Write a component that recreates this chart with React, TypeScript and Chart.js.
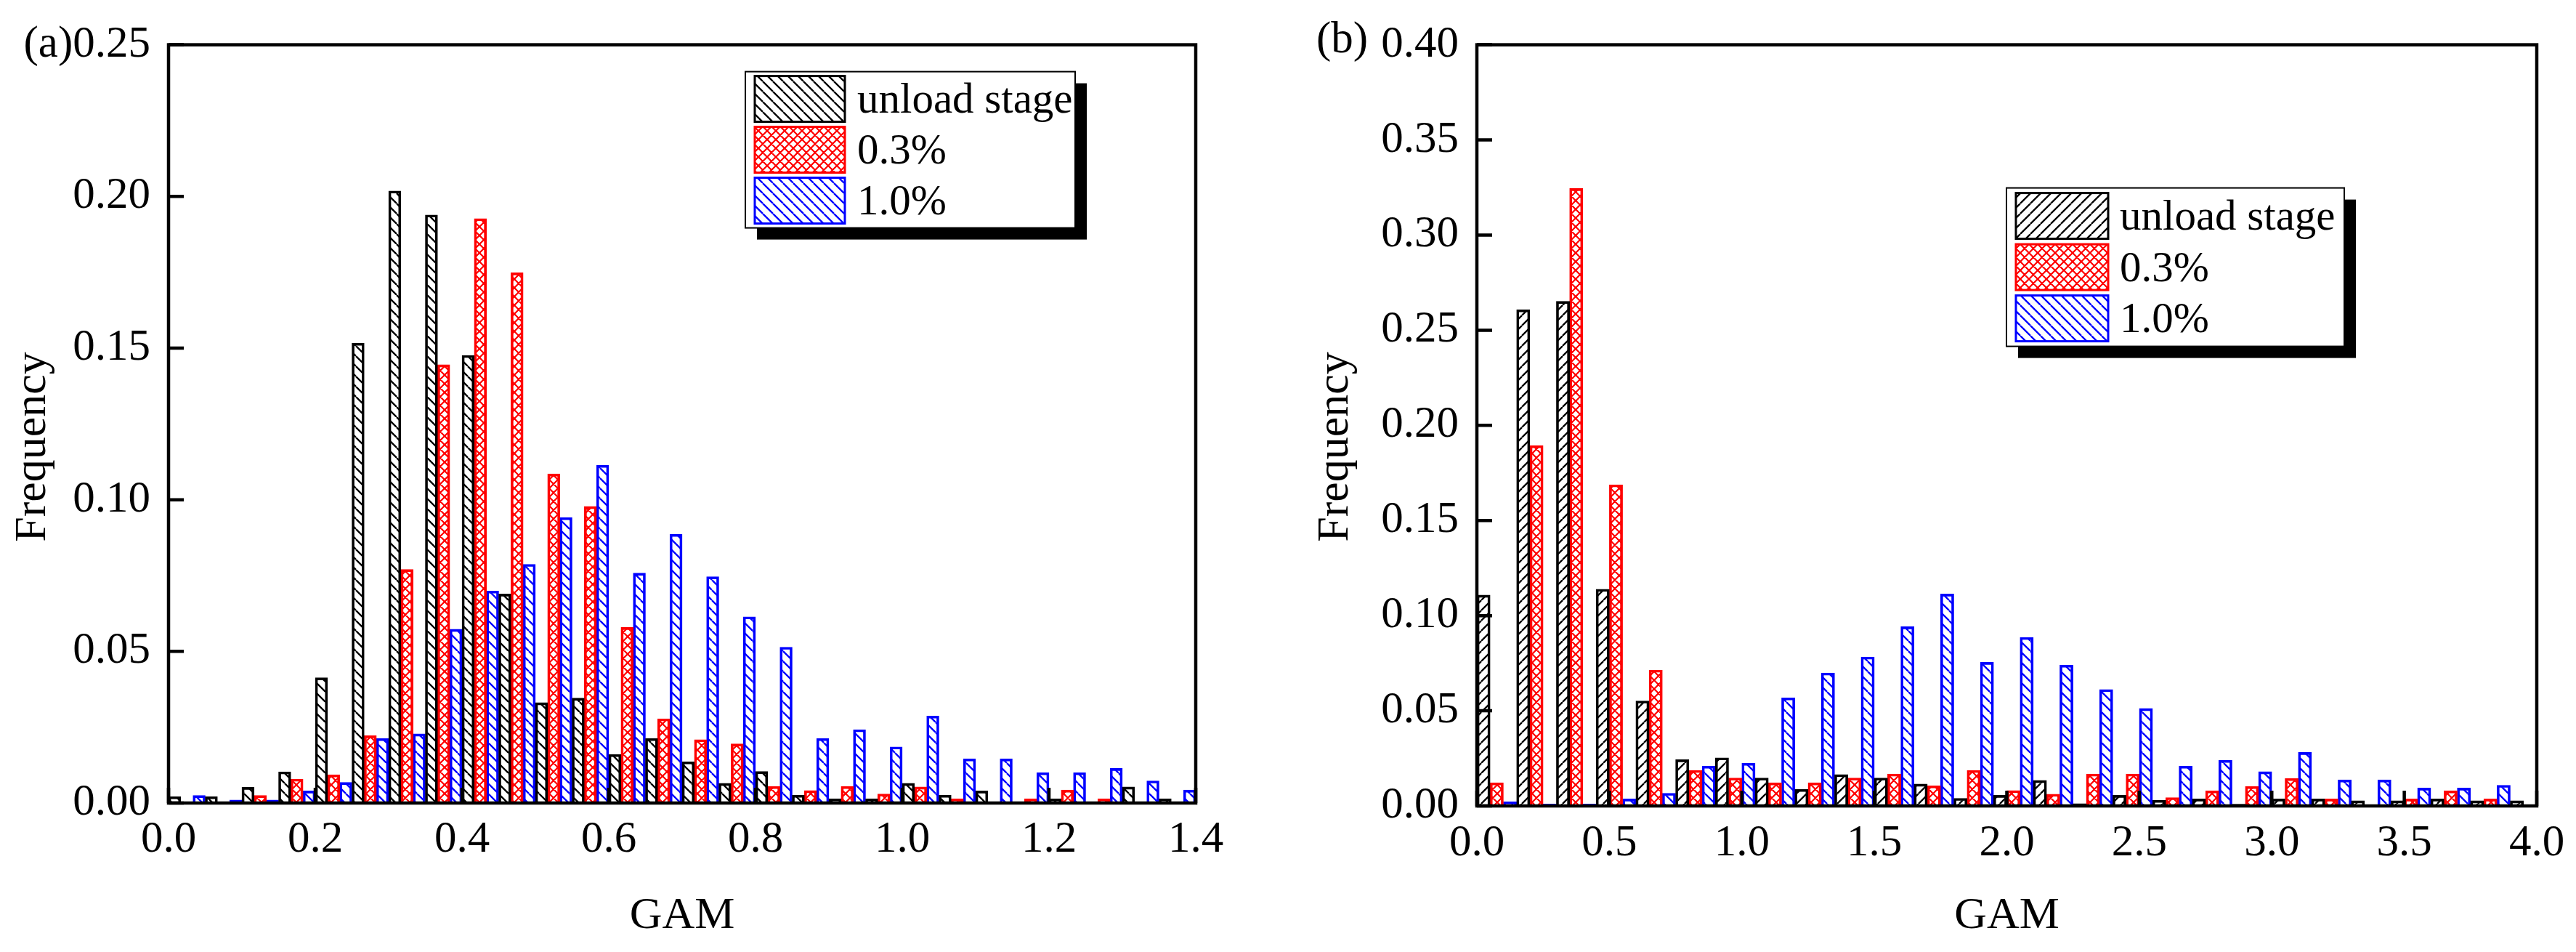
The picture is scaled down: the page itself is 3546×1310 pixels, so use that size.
import { useEffect, useRef } from 'react';
import { Chart, registerables } from 'chart.js';

Chart.register(...registerables);

const FONT = 'Liberation Serif';
const SERIES = ['unload stage', '0.3%', '1.0%'];
const COLORS = ['#000000', '#ff0000', '#0000ff'];
const X_TITLE = 'GAM';
const Y_TITLE = 'Frequency';

// panel (a): bins of 0.05, bar centres
const GAM_A = [0.025, 0.075, 0.125, 0.175, 0.225, 0.275, 0.325, 0.375, 0.425, 0.475, 0.525, 0.575, 0.625, 0.675,
  0.725, 0.775, 0.825, 0.875, 0.925, 0.975, 1.025, 1.075, 1.125, 1.175, 1.225, 1.275, 1.325, 1.375];
const UNLOAD_A = [0.0021, 0.0021, 0.0052, 0.0103, 0.0413, 0.1516, 0.2018, 0.1939, 0.1476, 0.0689, 0.0331, 0.0346, 0.016, 0.0213,
  0.0136, 0.0065, 0.0104, 0.0026, 0.0014, 0.0014, 0.0065, 0.0026, 0.004, 0, 0.0014, 0, 0.0053, 0.0014];
const P03_A = [0, 0, 0.0025, 0.0079, 0.0093, 0.0222, 0.077, 0.1445, 0.1927, 0.1748, 0.1085, 0.0978, 0.0579, 0.0278,
  0.0209, 0.0195, 0.0055, 0.0041, 0.0055, 0.003, 0.0053, 0.0014, 0, 0.0014, 0.0043, 0.0014, 0, 0];
const P10_A = [0.0025, 0.001, 0.001, 0.004, 0.0068, 0.0213, 0.0228, 0.0573, 0.0699, 0.0787, 0.0941, 0.1114, 0.0758, 0.0886,
  0.0746, 0.0614, 0.0514, 0.0213, 0.0242, 0.0185, 0.0287, 0.0146, 0.0146, 0.01, 0.01, 0.0114, 0.0073, 0.0043];
const X_TICKS_A = [0, 0.2, 0.4, 0.6, 0.8, 1.0, 1.2, 1.4];
const Y_TICKS_A = [0, 0.05, 0.1, 0.15, 0.2, 0.25];

// panel (b): bins of 0.15, bar centres
const GAM_B = [0.075, 0.225, 0.375, 0.525, 0.675, 0.825, 0.975, 1.125, 1.275, 1.425, 1.575, 1.725, 1.875, 2.025,
  2.175, 2.325, 2.475, 2.625, 2.775, 2.925, 3.075, 3.225, 3.375, 3.525, 3.675, 3.825, 3.975];
const UNLOAD_B = [0.1108, 0.2608, 0.2652, 0.1139, 0.0552, 0.0243, 0.0253, 0.0147, 0.0087, 0.0165, 0.0147, 0.0115, 0.004, 0.0056,
  0.0134, 0.0012, 0.0056, 0.003, 0.0037, 0.0009, 0.0037, 0.0037, 0.0027, 0.0027, 0.0037, 0.0027, 0.0027];
const P03_B = [0.0122, 0.1894, 0.3245, 0.1688, 0.0714, 0.0187, 0.0147, 0.0122, 0.0122, 0.0147, 0.0168, 0.0106, 0.0187, 0.0081,
  0.0062, 0.0168, 0.0168, 0.0044, 0.008, 0.0102, 0.0144, 0.0037, 0, 0.0037, 0.008, 0.0037, 0];
const P10_B = [0.0022, 0.001, 0.001, 0.0037, 0.0067, 0.0209, 0.0225, 0.0568, 0.0699, 0.0783, 0.0942, 0.1114, 0.0755, 0.0886,
  0.074, 0.0612, 0.0512, 0.0209, 0.024, 0.018, 0.0281, 0.0137, 0.0137, 0.0094, 0.0094, 0.0109, 0];
const X_TICKS_B = [0, 0.5, 1.0, 1.5, 2.0, 2.5, 3.0, 3.5, 4.0];
const Y_TICKS_B = [0, 0.05, 0.1, 0.15, 0.2, 0.25, 0.3, 0.35, 0.4];

const W = 1773, H = 1310;

type Hatch = 'back' | 'fwd' | 'cross';

function hatch(ctx: CanvasRenderingContext2D, color: string, kind: Hatch, s: number, lw: number) {
  const c = document.createElement('canvas');
  c.width = s; c.height = s;
  const g = c.getContext('2d')!;
  g.strokeStyle = color; g.lineWidth = lw;
  g.beginPath();
  for (let k = -1; k <= 1; k++) {
    if (kind !== 'fwd') { g.moveTo(k * s, 0); g.lineTo(k * s + s, s); }
    if (kind !== 'back') { g.moveTo(k * s + s, 0); g.lineTo(k * s, s); }
  }
  g.stroke();
  return ctx.createPattern(c, 'repeat')!;
}

const framePlugin = {
  id: 'frame',
  afterDatasetsDraw(chart: any, _a: any, o: any) {
    const { ctx, chartArea: a, scales: { x, y } } = chart;
    ctx.save();
    ctx.strokeStyle = '#000';
    ctx.lineWidth = 4.5;
    ctx.beginPath();
    x.ticks.forEach((t: any) => { const p = x.getPixelForValue(t.value); ctx.moveTo(p, a.bottom); ctx.lineTo(p, a.bottom - 21); });
    y.ticks.forEach((t: any) => { const p = y.getPixelForValue(t.value); ctx.moveTo(a.left, p); ctx.lineTo(a.left + 21, p); });
    ctx.stroke();
    ctx.strokeRect(a.left, a.top, a.right - a.left, a.bottom - a.top);

    // legend box with drop shadow
    const L = o.legend;
    const bx = a.left + L.x, by = a.top + L.y;
    ctx.fillStyle = '#000';
    ctx.fillRect(bx + 16, by + 16, L.w, L.h);
    ctx.fillStyle = '#fff';
    ctx.fillRect(bx, by, L.w, L.h);
    ctx.lineWidth = 2;
    ctx.strokeRect(bx, by, L.w, L.h);
    ctx.font = `59px "${FONT}"`;
    ctx.textAlign = 'left';
    ctx.textBaseline = 'alphabetic';
    chart.data.datasets.forEach((ds: any, i: number) => {
      const ry = by + L.row0 + i * L.step;
      ctx.fillStyle = ds.backgroundColor;
      ctx.fillRect(bx + 13, ry, L.sw, L.rh);
      ctx.strokeStyle = ds.borderColor;
      ctx.lineWidth = 3;
      ctx.strokeRect(bx + 13, ry, L.sw, L.rh);
      ctx.fillStyle = '#000';
      ctx.fillText(ds.label, bx + L.tx, ry + L.rh / 2 + L.base);
    });

    if (o.panel) {
      ctx.font = `61px "${FONT}"`;
      ctx.fillStyle = '#000';
      ctx.fillText(o.panel, o.panelX, o.panelY);
    }

    // y-axis title, rotated
    ctx.translate(o.yTitleX, o.yTitleY);
    ctx.rotate(-Math.PI / 2);
    ctx.font = `62px "${FONT}"`;
    ctx.fillStyle = '#000';
    ctx.textAlign = 'center';
    ctx.textBaseline = 'middle';
    ctx.fillText(Y_TITLE, 0, 0);
    ctx.restore();
  },
};

interface Cfg {
  left: number;
  area: { left: number; top: number; right: number; bottom: number };
  gam: number[];
  series: number[][];
  xTicks: number[];
  yTicks: number[];
  unloadHatch: Hatch;
  prefix: string;
  xPad: number;
  yTitleX: number;
  yTitleY: number;
  legend: any;
  panel?: string;
  panelX?: number;
  panelY?: number;
}

function Panel({ cfg }: { cfg: Cfg }) {
  const ref = useRef<HTMLCanvasElement>(null);

  useEffect(() => {
    if (!ref.current) return;
    const ctx = ref.current.getContext('2d')!;
    const pats = [
      hatch(ctx, COLORS[0], cfg.unloadHatch, 14, 2.3),
      hatch(ctx, COLORS[1], 'cross', 12, 2.2),
      hatch(ctx, COLORS[2], 'back', 14, 2.3),
    ];
    const { area } = cfg;
    const xMax = cfg.xTicks[cfg.xTicks.length - 1];
    const yMax = cfg.yTicks[cfg.yTicks.length - 1];
    const tickFont = { family: FONT, size: 61 };
    const titleFont = { family: FONT, size: 62 };
    const chart = new Chart(ref.current, {
      type: 'bar',
      data: {
        datasets: cfg.series.map((vals, i) => ({
          label: SERIES[i],
          data: cfg.gam.map((g, j) => ({ x: g, y: vals[j] })),
          backgroundColor: pats[i],
          borderColor: COLORS[i],
          borderWidth: 3,
          borderSkipped: 'start',
          barPercentage: 1,
          categoryPercentage: 1,
        })),
      } as any,
      options: {
        animation: false,
        responsive: false,
        devicePixelRatio: 1,
        events: [],
        layout: { padding: { left: 0, top: area.top, right: W - area.right, bottom: 0 } },
        plugins: {
          legend: { display: false },
          tooltip: { enabled: false },
          frame: {
            legend: cfg.legend, panel: cfg.panel, panelX: cfg.panelX, panelY: cfg.panelY,
            yTitleX: cfg.yTitleX, yTitleY: cfg.yTitleY,
          },
        } as any,
        scales: {
          x: {
            type: 'linear', min: 0, max: xMax, offset: false,
            grid: { display: false, drawTicks: false }, border: { display: false },
            afterBuildTicks: (s: any) => { s.ticks = cfg.xTicks.map(v => ({ value: v })); },
            afterFit: (s: any) => { s.height = H - area.bottom; },
            ticks: { font: tickFont, color: '#000', padding: cfg.xPad, maxRotation: 0, autoSkip: false, callback: (v: any) => Number(v).toFixed(1) },
            title: { display: true, text: X_TITLE, font: titleFont, color: '#000', padding: { top: 0, bottom: 12 } },
          },
          y: {
            type: 'linear', min: 0, max: yMax,
            grid: { display: false, drawTicks: false }, border: { display: false },
            afterBuildTicks: (s: any) => { s.ticks = cfg.yTicks.map(v => ({ value: v })); },
            afterFit: (s: any) => { s.width = area.left; },
            ticks: {
              font: tickFont, color: '#000', padding: 25, autoSkip: false,
              callback: (v: any) => (Math.abs(v - yMax) < 1e-9 ? cfg.prefix : '') + Number(v).toFixed(2),
            },
          },
        },
      } as any,
      plugins: [framePlugin],
    });
    return () => { chart.destroy(); };
  }, [cfg]);

  return <canvas ref={ref} width={W} height={H} style={{ position: 'absolute', left: cfg.left, top: 0 }} />;
}

const PANEL_A: Cfg = {
  left: 0,
  area: { left: 232, top: 43, right: 1646, bottom: 1105 },
  gam: GAM_A,
  series: [UNLOAD_A, P03_A, P10_A],
  xTicks: X_TICKS_A,
  yTicks: Y_TICKS_A,
  unloadHatch: 'back',
  prefix: '(a)',
  xPad: 14,
  yTitleX: 46,
  yTitleY: 615,
  legend: { x: 794, y: 37, w: 454, h: 215, row0: 6, step: 70, rh: 63, sw: 124, tx: 154, base: 19 },
};

const PANEL_B: Cfg = {
  left: 1773,
  area: { left: 260, top: 38, right: 1719, bottom: 1109 },
  gam: GAM_B,
  series: [UNLOAD_B, P03_B, P10_B],
  xTicks: X_TICKS_B,
  yTicks: Y_TICKS_B,
  unloadHatch: 'fwd',
  prefix: '',
  xPad: 15,
  yTitleX: 66,
  yTitleY: 615,
  legend: { x: 729, y: 197, w: 465, h: 218, row0: 7, step: 70.5, rh: 63, sw: 127, tx: 156, base: 19 },
  panel: '(b)',
  panelX: 39,
  panelY: 72,
};

export default function App() {
  return (
    <div style={{ position: 'absolute', left: 0, top: 0, width: 3546, height: 1310, background: '#fff', overflow: 'hidden' }}>
      <Panel cfg={PANEL_A} />
      <Panel cfg={PANEL_B} />
    </div>
  );
}
